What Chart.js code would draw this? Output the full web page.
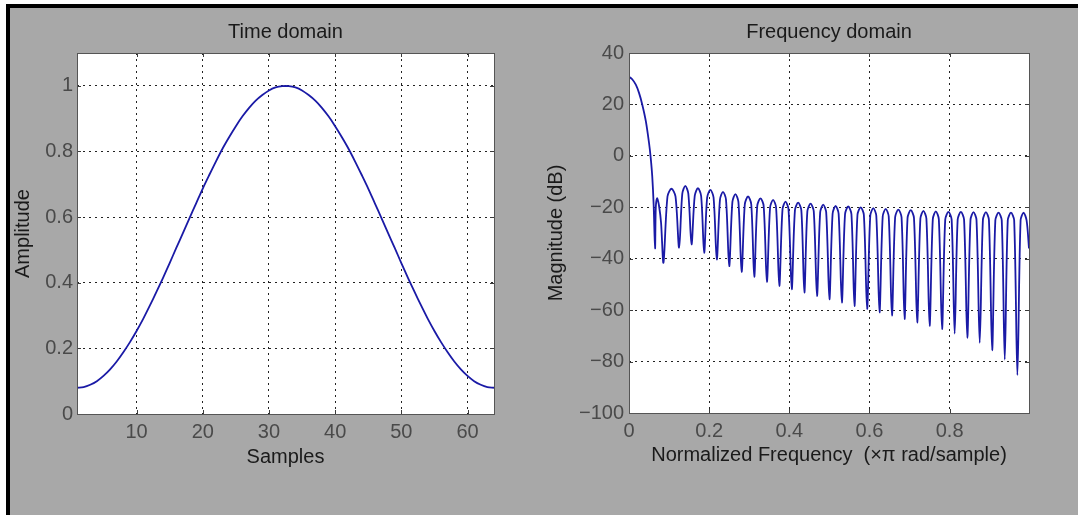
<!DOCTYPE html>
<html>
<head>
<meta charset="utf-8">
<script src="https://cdn.jsdelivr.net/npm/chart.js@4.4.1/dist/chart.umd.min.js"></script>
<style>
    html, body { margin: 0; padding: 0; background: #fff; }
    #page { position: relative; width: 1078px; height: 515px; overflow: hidden; background: #fff; }
    #frame {
        position: absolute; left: 6px; top: 4px; right: 0; bottom: 0;
        background: #a8a8a8;
        border-left: 4px solid #000;
        border-top: 4px solid #000;
    }
    canvas { position: absolute; top: 0; }
    #timeChart { left: 0; }
    #freqChart { left: 540px; }
</style>
</head>
<body>
<div id="page">
    <div id="frame"></div>
    <canvas id="timeChart" width="540" height="515"></canvas>
    <canvas id="freqChart" width="538" height="515"></canvas>
</div>
<script>
// Time domain: 64-sample window
const sampleNumbers = Array.from({ length: 64 }, (_, i) => i + 1);
const amplitude = [
    0.080, 0.082, 0.089, 0.100, 0.116, 0.136, 0.160, 0.188, 0.219, 0.253,
    0.290, 0.330, 0.372, 0.415, 0.460, 0.506, 0.551, 0.597, 0.642, 0.687,
    0.729, 0.770, 0.809, 0.844, 0.877, 0.907, 0.933, 0.955, 0.972, 0.986,
    0.995, 0.999, 0.999, 0.995, 0.986, 0.972, 0.955, 0.933, 0.907, 0.877,
    0.844, 0.809, 0.770, 0.729, 0.687, 0.642, 0.597, 0.551, 0.506, 0.460,
    0.415, 0.372, 0.330, 0.290, 0.253, 0.219, 0.188, 0.160, 0.136, 0.116,
    0.100, 0.089, 0.082, 0.080
];
const timeXTicks = [10, 20, 30, 40, 50, 60];
const timeYTicks = [0, 0.2, 0.4, 0.6, 0.8, 1];

// Frequency domain: magnitude response, read lobe by lobe
const freqNorm = [
    0, 0.008, 0.017, 0.025, 0.033, 0.042, 0.050, 0.054, 0.058, 0.0615, 0.065,
    0.067, 0.0705, 0.075, 0.080, 0.086,
    0.096, 0.106, 0.116, 0.125,
    0.133, 0.1405, 0.148, 0.156,
    0.164, 0.172, 0.180, 0.1875,
    0.195, 0.203, 0.211, 0.219,
    0.227, 0.2345, 0.242, 0.250,
    0.258, 0.2655, 0.273, 0.281,
    0.289, 0.297, 0.305, 0.3125,
    0.320, 0.328, 0.336, 0.344,
    0.352, 0.3595, 0.367, 0.375,
    0.383, 0.3905, 0.398, 0.406,
    0.414, 0.422, 0.430, 0.4375,
    0.445, 0.453, 0.461, 0.469,
    0.477, 0.4845, 0.492, 0.500,
    0.508, 0.5155, 0.523, 0.531,
    0.539, 0.547, 0.555, 0.5625,
    0.570, 0.578, 0.586, 0.594,
    0.602, 0.6095, 0.617, 0.625,
    0.633, 0.6405, 0.648, 0.656,
    0.664, 0.672, 0.680, 0.6875,
    0.695, 0.703, 0.711, 0.719,
    0.727, 0.7345, 0.742, 0.750,
    0.758, 0.7655, 0.773, 0.781,
    0.789, 0.797, 0.805, 0.8125,
    0.820, 0.828, 0.836, 0.844,
    0.852, 0.8595, 0.867, 0.875,
    0.883, 0.8905, 0.898, 0.906,
    0.914, 0.922, 0.930, 0.9375,
    0.945, 0.953, 0.961, 0.969,
    0.977, 0.9845, 0.992, 0.998
];
const magnitudeDb = [
    30.8, 29.8, 27.7, 24.5, 20.0, 13.5, 5.0, -0.5, -8.0, -19.0, -36.0,
    -19.5, -16.4, -19.5, -26.0, -41.5,
    -15.8, -12.8, -15.8, -35.7,
    -14.7, -11.7, -14.7, -34.4,
    -15.6, -12.6, -15.6, -37.7,
    -16.2, -13.2, -16.2, -40.3,
    -17.0, -14.0, -17.0, -42.9,
    -17.9, -14.9, -17.9, -45.1,
    -18.8, -15.8, -18.8, -47.0,
    -19.5, -16.5, -19.5, -49.0,
    -20.1, -17.1, -20.1, -50.6,
    -20.8, -17.8, -20.8, -51.9,
    -21.2, -18.2, -21.2, -53.2,
    -21.6, -18.6, -21.6, -54.5,
    -22.0, -19.0, -22.0, -55.8,
    -22.5, -19.5, -22.5, -57.1,
    -22.7, -19.7, -22.7, -58.4,
    -23.0, -20.0, -23.0, -59.6,
    -23.3, -20.3, -23.3, -60.9,
    -23.6, -20.6, -23.6, -62.1,
    -23.9, -20.9, -23.9, -63.5,
    -24.1, -21.1, -24.1, -64.8,
    -24.4, -21.4, -24.4, -66.1,
    -24.6, -21.6, -24.6, -67.4,
    -24.8, -21.8, -24.8, -69.1,
    -24.8, -21.8, -24.8, -70.8,
    -24.9, -21.9, -24.9, -72.7,
    -24.9, -21.9, -24.9, -75.6,
    -25.1, -22.1, -25.1, -79.2,
    -25.1, -22.1, -25.1, -85.3,
    -25.1, -22.1, -25.1, -36.0
];
const freqXTicks = [0, 0.2, 0.4, 0.6, 0.8];
const freqYTicks = [-100, -80, -60, -40, -20, 0, 20, 40];

const lineColor = '#1a1aa6';
const tickColor = '#4a4a4a';
const textColor = '#1a1a1a';

Chart.defaults.font.family = "'Liberation Sans', Arial, Helvetica, sans-serif";
Chart.defaults.font.size = 20;

// white axes background, dark box and inward tick marks (matlab style)
const axesBox = {
    id: 'axesBox',
    beforeDraw(chart) {
        const { ctx, chartArea: a } = chart;
        ctx.save();
        ctx.fillStyle = '#fff';
        ctx.fillRect(a.left, a.top, a.right - a.left, a.bottom - a.top);
        ctx.restore();
    },
    afterDatasetsDraw(chart) {
        const { ctx, chartArea: a, scales } = chart;
        const len = 4;
        ctx.save();
        ctx.strokeStyle = '#3a3a3a';
        ctx.lineWidth = 1;
        ctx.beginPath();
        scales.x.ticks.forEach(t => {
            const px = Math.round(scales.x.getPixelForValue(t.value)) + 0.5;
            ctx.moveTo(px, a.bottom); ctx.lineTo(px, a.bottom - len);
            ctx.moveTo(px, a.top); ctx.lineTo(px, a.top + len);
        });
        scales.y.ticks.forEach(t => {
            const py = Math.round(scales.y.getPixelForValue(t.value)) + 0.5;
            ctx.moveTo(a.left, py); ctx.lineTo(a.left + len, py);
            ctx.moveTo(a.right, py); ctx.lineTo(a.right - len, py);
        });
        ctx.stroke();
        ctx.strokeStyle = '#555';
        ctx.strokeRect(Math.round(a.left) + 0.5, Math.round(a.top) + 0.5,
            Math.round(a.right - a.left), Math.round(a.bottom - a.top));
        ctx.restore();
    }
};

function minusSign(v) {
    return v < 0 ? '\u2212' + Math.abs(v) : String(v);
}

function axisOptions(cfg) {
    return {
        type: 'linear',
        min: cfg.min,
        max: cfg.max,
        afterBuildTicks: scale => { scale.ticks = cfg.ticks.map(v => ({ value: v })); },
        afterFit: scale => {
            if (cfg.width) scale.width = cfg.width;
            if (cfg.height) scale.height = cfg.height;
        },
        grid: {
            color: '#222',
            lineWidth: 1,
            drawTicks: false
        },
        border: { display: false, dash: [2, 4] },
        ticks: {
            color: tickColor,
            padding: cfg.tickPadding,
            autoSkip: false,
            maxRotation: 0,
            callback: v => minusSign(v)
        },
        title: {
            display: true,
            text: cfg.title,
            color: textColor,
            padding: cfg.titlePadding
        }
    };
}

function makeChart(id, cfg) {
    return new Chart(document.getElementById(id), {
        type: 'line',
        data: {
            datasets: [{
                data: cfg.xs.map((x, i) => ({ x: x, y: cfg.ys[i] })),
                borderColor: lineColor,
                borderWidth: 1.8,
                pointRadius: 0,
                tension: cfg.tension,
                fill: false
            }]
        },
        options: {
            responsive: false,
            animation: false,
            devicePixelRatio: 1,
            layout: { padding: { left: 0, right: cfg.rightPad, top: 0, bottom: 0 } },
            plugins: {
                legend: { display: false },
                tooltip: { enabled: false },
                title: {
                    display: true,
                    text: cfg.title,
                    color: textColor,
                    fullSize: false,
                    font: { size: 20, weight: 'normal' },
                    padding: { top: 20, bottom: 9 }
                }
            },
            scales: {
                x: axisOptions(cfg.x),
                y: axisOptions(cfg.y)
            }
        },
        plugins: [axesBox]
    });
}

makeChart('timeChart', {
    title: 'Time domain',
    xs: sampleNumbers,
    ys: amplitude,
    tension: 0.3,
    rightPad: 46,
    x: { min: 1, max: 64, ticks: timeXTicks, height: 101, tickPadding: 6,
         title: 'Samples', titlePadding: { top: 0, bottom: 46 } },
    y: { min: 0, max: 1.1, ticks: timeYTicks, width: 77, tickPadding: 4,
         title: 'Amplitude', titlePadding: { top: 11, bottom: 0 } }
});

makeChart('freqChart', {
    title: 'Frequency domain',
    xs: freqNorm,
    ys: magnitudeDb,
    tension: 0.3,
    rightPad: 49,
    x: { min: 0, max: 0.998, ticks: freqXTicks, height: 102, tickPadding: 6,
         title: 'Normalized Frequency  (\u00d7\u03c0 rad/sample)', titlePadding: { top: 0, bottom: 48 } },
    y: { min: -100, max: 40, ticks: freqYTicks, width: 89, tickPadding: 5,
         title: 'Magnitude (dB)', titlePadding: { top: 4, bottom: 0 } }
});
</script>
</body>
</html>
